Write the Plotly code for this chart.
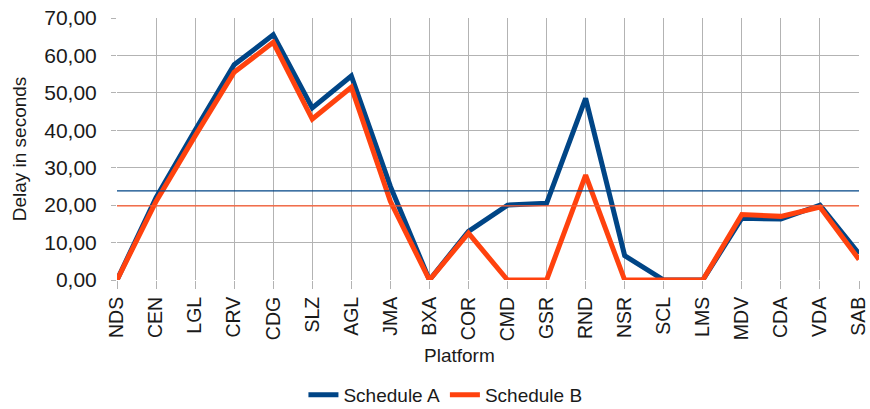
import plotly.graph_objects as go

platforms = ["NDS", "CEN", "LGL", "CRV", "CDG", "SLZ", "AGL", "JMA", "BXA", "COR",
             "CMD", "GSR", "RND", "NSR", "SCL", "LMS", "MDV", "CDA", "VDA", "SAB"]
schedule_a = [0, 22, 40, 57.5, 65.5, 46, 54.5, 25, 0, 13,
              20, 20.5, 48.5, 6.5, 0, 0, 16.5, 16.3, 20, 7]
schedule_b = [0, 21, 38.5, 55.5, 63.5, 43, 51.5, 21, 0, 12.5,
              0, 0, 28, 0, 0, 0, 17.5, 17, 19.5, 5.5]
mean_a = 23.8
mean_b = 19.8
y_ticks = [0, 10, 20, 30, 40, 50, 60, 70]

BLUE = "#004586"
ORANGE = "#ff420e"
FONT = "Liberation Sans, Arial, sans-serif"

W, H = 870, 409
ML, MR, MT, MB = 117, 11, 18, 129
plot_h = H - MT - MB

fig = go.Figure()
fig.add_trace(go.Scatter(x=platforms, y=schedule_a, mode="lines", name="Schedule A",
                         line=dict(color=BLUE, width=5)))
fig.add_trace(go.Scatter(x=platforms, y=schedule_b, mode="lines", name="Schedule B",
                         line=dict(color=ORANGE, width=5)))
fig.add_trace(go.Scatter(x=[platforms[0], platforms[-1]], y=[mean_a, mean_a], mode="lines",
                         showlegend=False, hoverinfo="skip", line=dict(color=BLUE, width=1.3)))
fig.add_trace(go.Scatter(x=[platforms[0], platforms[-1]], y=[mean_b, mean_b], mode="lines",
                         showlegend=False, hoverinfo="skip", line=dict(color="#ff5a2e", width=1.3)))

fig.update_layout(
    width=W, height=H,
    margin=dict(l=ML, r=MR, t=MT, b=MB, autoexpand=False),
    paper_bgcolor="white", plot_bgcolor="white",
    separators=",.",
    font=dict(family=FONT, size=19, color="#1a1a1a"),
    showlegend=True,
    legend=dict(orientation="h", x=0.512, xref="container", xanchor="center",
                y=1 - 395 / H, yref="container", yanchor="middle",
                font=dict(size=19), itemwidth=30),
    xaxis=dict(
        type="category", range=[0, len(platforms) - 1],
        tickangle=-90, tickfont=dict(size=19.5),
        showgrid=True, gridcolor="#b3b3b3", gridwidth=1,
        ticks="outside", ticklen=8, tickcolor="#b3b3b3",
        showline=False, zeroline=False, automargin=False,
    ),
    yaxis=dict(
        range=[0, 70], tickvals=y_ticks, tickformat=".2f",
        tickfont=dict(size=21), ticklabelstandoff=10,
        title=dict(text="Delay in seconds", font=dict(size=19), standoff=12),
        showgrid=True, gridcolor="#b3b3b3", gridwidth=1,
        ticks="outside", ticklen=5, tickcolor="#b3b3b3",
        showline=False, zeroline=False, automargin=False,
    ),
    annotations=[dict(text="Platform", x=0.462, xref="paper",
                      y=(H - MB - 355) / plot_h, yref="paper", yanchor="middle",
                      showarrow=False, font=dict(size=19))],
)

fig.write_html("out.html", config={"displayModeBar": False},
               post_script="document.body.style.margin='0';document.body.style.padding='0';"
                           "document.body.style.overflow='hidden';")
